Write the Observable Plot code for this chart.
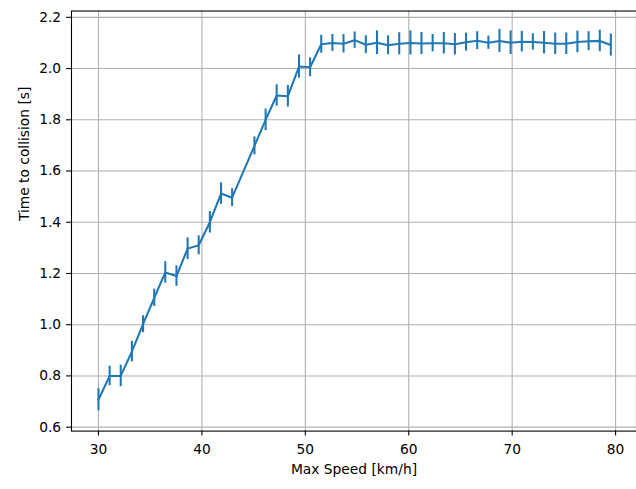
<!DOCTYPE html>
<html>
<head>
<meta charset="utf-8">
<script src="https://cdn.jsdelivr.net/npm/d3@7"></script>
<script src="https://cdn.jsdelivr.net/npm/@observablehq/plot@0.6"></script>
<style>
  html, body { margin: 0; padding: 0; background: #fff; overflow: hidden; }
  #chart { width: 636px; height: 489px; overflow: hidden; }
  #chart svg { font-family: "DejaVu Sans", sans-serif; color: #000; }
</style>
</head>
<body>
<div id="chart"></div>
<script>
// Max speed [km/h] (one sample near 44 km/h is absent in the reference)
const speeds = [30.00, 31.08, 32.15, 33.23, 34.31, 35.39, 36.46, 37.54, 38.62, 39.69,
  40.77, 41.85, 42.92, 45.08, 46.16, 47.23, 48.31, 49.39, 50.46, 51.54,
  52.62, 53.69, 54.77, 55.85, 56.93, 58.00, 59.08, 60.16, 61.23, 62.31,
  63.39, 64.46, 65.54, 66.62, 67.70, 68.77, 69.85, 70.93, 72.00, 73.08,
  74.16, 75.23, 76.31, 77.39, 78.47, 79.54];
// Mean time to collision [s]
const ttc = [0.707, 0.800, 0.800, 0.895, 1.002, 1.105, 1.204, 1.190, 1.297, 1.310,
  1.400, 1.512, 1.496, 1.698, 1.800, 1.895, 1.892, 2.008, 2.005, 2.095,
  2.100, 2.097, 2.111, 2.093, 2.101, 2.091, 2.097, 2.100, 2.098, 2.099,
  2.099, 2.095, 2.103, 2.109, 2.101, 2.108, 2.101, 2.105, 2.104, 2.101,
  2.097, 2.097, 2.104, 2.107, 2.108, 2.092];
// Error (half-length of error bar) [s]
const ttcErr = [0.043, 0.038, 0.042, 0.040, 0.033, 0.034, 0.042, 0.040, 0.042, 0.037,
  0.042, 0.042, 0.035, 0.035, 0.042, 0.042, 0.042, 0.045, 0.037, 0.035,
  0.033, 0.036, 0.032, 0.035, 0.046, 0.037, 0.043, 0.047, 0.043, 0.034,
  0.042, 0.042, 0.035, 0.035, 0.026, 0.045, 0.046, 0.040, 0.032, 0.044,
  0.042, 0.042, 0.042, 0.037, 0.042, 0.043];
const xTicks = [30, 40, 50, 60, 70, 80];
const yTicks = [0.6, 0.8, 1.0, 1.2, 1.4, 1.6, 1.8, 2.0, 2.2];
const xLabel = "Max Speed [km/h]";
const yLabel = "Time to collision [s]";

const rows = speeds.map((s, i) => ({speed: s, ttc: ttc[i], lo: ttc[i] - ttcErr[i], hi: ttc[i] + ttcErr[i]}));

const blue = "#1f77b4";
const chart = Plot.plot({
  width: 645,
  height: 489,
  marginLeft: 72,
  marginRight: 0,
  marginTop: 10.7,
  marginBottom: 52.3,
  style: {fontFamily: "DejaVu Sans, sans-serif", fontSize: "14px", color: "#000", background: "#fff"},
  x: {domain: [27.39, 82.02], label: null},
  y: {domain: [0.5846, 2.2246], label: null},
  marks: [
    Plot.gridX(xTicks, {stroke: "#b0b0b0", strokeOpacity: 1, strokeWidth: 1.1}),
    Plot.gridY(yTicks, {stroke: "#b0b0b0", strokeOpacity: 1, strokeWidth: 1.1}),
    Plot.ruleX(rows, {x: "speed", y1: "lo", y2: "hi", stroke: blue, strokeWidth: 2.1}),
    Plot.line(rows, {x: "speed", y: "ttc", stroke: blue, strokeWidth: 2.1}),
    Plot.frame({stroke: "#000", strokeWidth: 1.1}),
    Plot.axisX(xTicks, {tickSize: 5, tickPadding: 8, fontSize: 14, label: null, stroke: "#000", strokeWidth: 1.1}),
    Plot.axisY(yTicks, {tickSize: 5, tickPadding: 5.5, fontSize: 14, tickFormat: d3.format(".1f"), label: null, stroke: "#000", strokeWidth: 1.1}),
    Plot.text([xLabel], {frameAnchor: "bottom", dy: 39, lineAnchor: "middle", fontSize: 14, fill: "#000"}),
    Plot.text([yLabel], {frameAnchor: "left", rotate: -90, dx: -48, lineAnchor: "middle", fontSize: 14, fill: "#000"})
  ]
});
document.getElementById("chart").appendChild(chart);
</script>
</body>
</html>
